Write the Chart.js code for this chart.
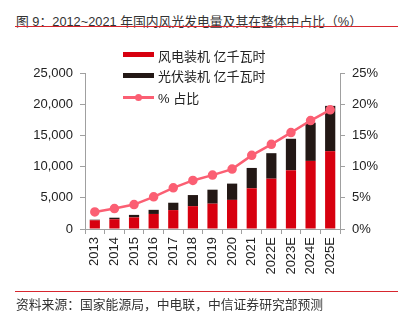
<!DOCTYPE html>
<html lang="zh">
<head>
<meta charset="UTF-8">
<title>国内风光发电量</title>
<style>
  body { margin: 0; width: 404px; height: 321px; background: #fff; position: relative; overflow: hidden;
         font-family: "Liberation Sans", "Noto Sans CJK SC", sans-serif; color: #333; }
  #chart { position: absolute; left: 0; top: 0; }
  .title { position: absolute; left: 16px; top: 11px; font-size: 12.8px; white-space: nowrap; }
  .rule { position: absolute; left: 15px; width: 383px; height: 1px; background: #d7262e; }
  .source { position: absolute; left: 16px; top: 294px; font-size: 12.8px; white-space: nowrap; }
  .legend { position: absolute; left: 123px; font-size: 13px; white-space: nowrap; color: #222; }
  .legend span { position: absolute; left: 35px; top: -9px; }
  .sw { position: absolute; left: 0; width: 31px; height: 5px; top: -2.5px; }
  .ln { position: absolute; left: 0; width: 31px; height: 2.5px; top: -1px; background: #fb5f73; }
  .dot { position: absolute; left: 12px; top: -3.5px; width: 7px; height: 7px; border-radius: 50%; background: #fb5f73; }
</style>
</head>
<body>
<div class="title">图 9：2012~2021 年国内风光发电量及其在整体中占比（%）</div>
<div class="rule" style="top:26px"></div>
<canvas id="chart" width="404" height="321"></canvas>
<div class="legend" style="top:54.5px"><div class="sw" style="background:#d7000f"></div><span>风电装机 亿千瓦时</span></div>
<div class="legend" style="top:75px"><div class="sw" style="background:#231815"></div><span>光伏装机 亿千瓦时</span></div>
<div class="legend" style="top:97px"><div class="ln"></div><div class="dot"></div><span>% 占比</span></div>
<div class="rule" style="top:291px"></div>
<div class="source">资料来源：国家能源局，中电联，中信证券研究部预测</div>

<script src="https://cdn.jsdelivr.net/npm/chart.js@4/dist/chart.umd.min.js"></script>
<script>
var years = ['2013', '2014', '2015', '2016', '2017', '2018', '2019', '2020', '2021', '2022E', '2023E', '2024E', '2025E'];
var wind = [1400, 1560, 1860, 2410, 3030, 3660, 4060, 4665, 6526, 8065, 9410, 10915, 12475];
var solar = [90, 250, 400, 660, 1180, 1780, 2240, 2610, 3259, 4085, 5050, 6125, 7255];
var share = [2.74, 3.27, 3.92, 5.15, 6.6, 7.78, 8.64, 9.6, 11.8, 13.57, 15.45, 17.38, 19.1];
var leftTicks = [0, 5000, 10000, 15000, 20000, 25000];
var rightTicks = [0, 5, 10, 15, 20, 25];

var axisColor = '#a0a0a0';
var tickFont = { family: 'Liberation Sans', size: 13 };

var ctx = document.getElementById('chart').getContext('2d');
new Chart(ctx, {
  type: 'bar',
  data: {
    labels: years,
    datasets: [{
      type: 'line',
      label: '% 占比',
      data: share,
      yAxisID: 'y1',
      borderColor: '#fb5f73',
      backgroundColor: '#fb5f73',
      borderWidth: 2.5,
      pointRadius: 3.5,
      pointHoverRadius: 3.5,
      tension: 0,
      order: 0
    }, {
      label: '风电装机 亿千瓦时',
      data: wind,
      yAxisID: 'y',
      backgroundColor: '#d7000f',
      barPercentage: 0.52,
      categoryPercentage: 1,
      order: 1
    }, {
      label: '光伏装机 亿千瓦时',
      data: solar,
      yAxisID: 'y',
      backgroundColor: '#231815',
      barPercentage: 0.52,
      categoryPercentage: 1,
      order: 1
    }]
  },
  options: {
    responsive: false,
    animation: false,
    events: [],
    layout: { padding: { top: 73, left: 0, right: 0, bottom: 0 } },
    plugins: { legend: { display: false }, tooltip: { enabled: false } },
    scales: {
      x: {
        stacked: true,
        afterFit: function (s) { s.height = 92; },
        border: { color: axisColor, width: 1 },
        grid: { display: true, drawOnChartArea: false, offset: true, tickLength: 5, color: axisColor },
        ticks: { font: tickFont, color: '#222', minRotation: 90, maxRotation: 90, padding: 3 }
      },
      y: {
        stacked: true,
        position: 'left',
        min: 0,
        max: 25000,
        afterFit: function (s) { s.width = 85; },
        afterBuildTicks: function (s) { s.ticks = leftTicks.map(function (v) { return { value: v }; }); },
        border: { color: axisColor, width: 1 },
        grid: { drawOnChartArea: false, tickLength: 5, color: axisColor },
        ticks: {
          font: tickFont, color: '#222', padding: 7,
          callback: function (v) { return v.toLocaleString('en-US'); }
        }
      },
      y1: {
        position: 'right',
        min: 0,
        max: 25,
        afterFit: function (s) { s.width = 64; },
        afterBuildTicks: function (s) { s.ticks = rightTicks.map(function (v) { return { value: v }; }); },
        border: { color: axisColor, width: 1 },
        grid: { drawOnChartArea: false, tickLength: 5, color: axisColor },
        ticks: {
          font: tickFont, color: '#222', padding: 7,
          callback: function (v) { return v + '%'; }
        }
      }
    }
  }
});
</script>
</body>
</html>
